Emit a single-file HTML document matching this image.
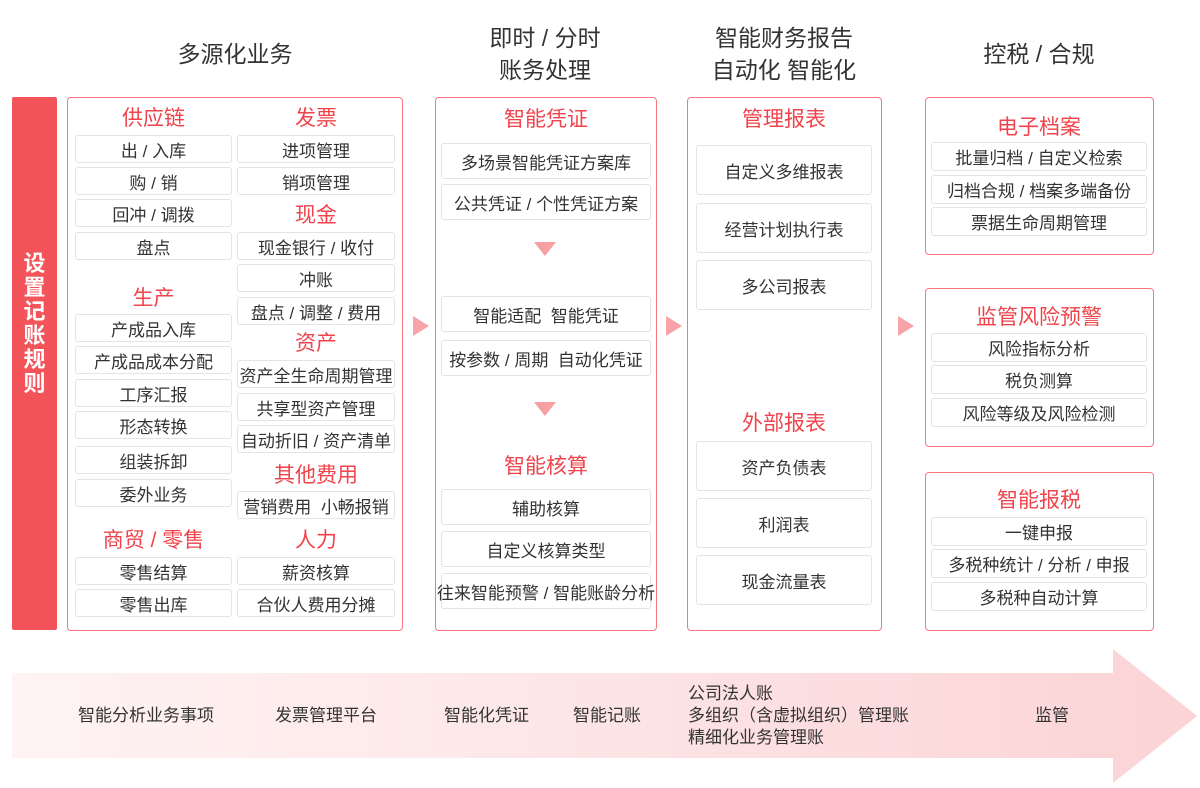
<!DOCTYPE html>
<html><head><meta charset="utf-8"><style>
*{margin:0;padding:0;box-sizing:border-box}
body{width:1200px;height:788px;background:#fff;position:relative;overflow:hidden;font-family:"Liberation Sans","Noto Sans CJK SC",sans-serif;color:#333}
.a{position:absolute}
.t{position:absolute;font-size:23px;color:#333;text-align:center;line-height:32px}
.box{position:absolute;border:1.5px solid #f5777c;border-radius:4px}
.i{position:absolute;border:1px solid #e4e4e4;border-radius:3px;font-size:17px;color:#333;display:flex;align-items:center;justify-content:center;white-space:nowrap;background:#fff}
.h{position:absolute;font-size:21px;color:#f0434b;text-align:center;line-height:24px;white-space:nowrap}
.ar{position:absolute;width:0;height:0;border-top:10px solid transparent;border-bottom:10px solid transparent;border-left:16px solid #f7a3a7}
.dn{position:absolute;width:0;height:0;border-left:11px solid transparent;border-right:11px solid transparent;border-top:14px solid #f7a0a4}
.b{position:absolute;font-size:17px;color:#333;white-space:nowrap;line-height:22px}
</style></head><body>
<div class="t" style="left:135px;top:38px;width:200px">多源化业务</div>
<div class="t" style="left:445px;top:22px;width:200px">即时 / 分时<br>账务处理</div>
<div class="t" style="left:684px;top:22px;width:200px">智能财务报告<br>自动化 智能化</div>
<div class="t" style="left:939px;top:38px;width:200px">控税 / 合规</div>

<div class="a" style="left:12px;top:97px;width:45px;height:533px;background:#f2545a;border-radius:2px"></div>
<div class="a" style="left:12px;top:252px;width:45px;color:#fff;font-size:22px;font-weight:bold;text-align:center;line-height:24px">设<br>置<br>记<br>账<br>规<br>则</div>

<div class="box" style="left:67px;top:97px;width:336px;height:534px"></div>
<div class="h" style="left:75px;top:107px;width:157px">供应链</div>
<div class="i" style="left:75px;top:135px;width:157px;height:28px">出 / 入库</div>
<div class="i" style="left:75px;top:167px;width:157px;height:28px">购 / 销</div>
<div class="i" style="left:75px;top:199px;width:157px;height:28px">回冲 / 调拨</div>
<div class="i" style="left:75px;top:232px;width:157px;height:28px">盘点</div>
<div class="h" style="left:75px;top:287px;width:157px">生产</div>
<div class="i" style="left:75px;top:314px;width:157px;height:28px">产成品入库</div>
<div class="i" style="left:75px;top:346px;width:157px;height:28px">产成品成本分配</div>
<div class="i" style="left:75px;top:379px;width:157px;height:28px">工序汇报</div>
<div class="i" style="left:75px;top:411px;width:157px;height:28px">形态转换</div>
<div class="i" style="left:75px;top:446px;width:157px;height:28px">组装拆卸</div>
<div class="i" style="left:75px;top:479px;width:157px;height:28px">委外业务</div>
<div class="h" style="left:75px;top:529px;width:157px">商贸 / 零售</div>
<div class="i" style="left:75px;top:557px;width:157px;height:28px">零售结算</div>
<div class="i" style="left:75px;top:589px;width:157px;height:28px">零售出库</div>

<div class="h" style="left:237px;top:107px;width:158px">发票</div>
<div class="i" style="left:237px;top:135px;width:158px;height:28px">进项管理</div>
<div class="i" style="left:237px;top:167px;width:158px;height:28px">销项管理</div>
<div class="h" style="left:237px;top:204px;width:158px">现金</div>
<div class="i" style="left:237px;top:232px;width:158px;height:28px">现金银行 / 收付</div>
<div class="i" style="left:237px;top:264px;width:158px;height:28px">冲账</div>
<div class="i" style="left:237px;top:297px;width:158px;height:28px">盘点 / 调整 / 费用</div>
<div class="h" style="left:237px;top:332px;width:158px">资产</div>
<div class="i" style="left:237px;top:360px;width:158px;height:28px">资产全生命周期管理</div>
<div class="i" style="left:237px;top:393px;width:158px;height:28px">共享型资产管理</div>
<div class="i" style="left:237px;top:425px;width:158px;height:28px">自动折旧 / 资产清单</div>
<div class="h" style="left:237px;top:464px;width:158px">其他费用</div>
<div class="i" style="left:237px;top:491px;width:158px;height:28px">营销费用&nbsp;&nbsp;小畅报销</div>
<div class="h" style="left:237px;top:529px;width:158px">人力</div>
<div class="i" style="left:237px;top:557px;width:158px;height:28px">薪资核算</div>
<div class="i" style="left:237px;top:589px;width:158px;height:28px">合伙人费用分摊</div>

<div class="ar" style="left:413px;top:316px"></div>

<div class="box" style="left:435px;top:97px;width:222px;height:534px"></div>
<div class="h" style="left:441px;top:108px;width:210px">智能凭证</div>
<div class="i" style="left:441px;top:143px;width:210px;height:36px">多场景智能凭证方案库</div>
<div class="i" style="left:441px;top:184px;width:210px;height:36px">公共凭证 / 个性凭证方案</div>
<div class="dn" style="left:534px;top:242px"></div>
<div class="i" style="left:441px;top:296px;width:210px;height:36px">智能适配&nbsp;&nbsp;智能凭证</div>
<div class="i" style="left:441px;top:340px;width:210px;height:36px">按参数 / 周期&nbsp;&nbsp;自动化凭证</div>
<div class="dn" style="left:534px;top:402px"></div>
<div class="h" style="left:441px;top:455px;width:210px">智能核算</div>
<div class="i" style="left:441px;top:489px;width:210px;height:36px">辅助核算</div>
<div class="i" style="left:441px;top:531px;width:210px;height:36px">自定义核算类型</div>
<div class="i" style="left:441px;top:573px;width:210px;height:36px">往来智能预警 / 智能账龄分析</div>

<div class="ar" style="left:666px;top:316px"></div>

<div class="box" style="left:687px;top:97px;width:195px;height:534px"></div>
<div class="h" style="left:696px;top:108px;width:176px">管理报表</div>
<div class="i" style="left:696px;top:145px;width:176px;height:50px">自定义多维报表</div>
<div class="i" style="left:696px;top:203px;width:176px;height:50px">经营计划执行表</div>
<div class="i" style="left:696px;top:260px;width:176px;height:50px">多公司报表</div>
<div class="h" style="left:696px;top:412px;width:176px">外部报表</div>
<div class="i" style="left:696px;top:441px;width:176px;height:50px">资产负债表</div>
<div class="i" style="left:696px;top:498px;width:176px;height:50px">利润表</div>
<div class="i" style="left:696px;top:555px;width:176px;height:50px">现金流量表</div>

<div class="ar" style="left:898px;top:316px"></div>

<div class="box" style="left:925px;top:97px;width:229px;height:158px"></div>
<div class="h" style="left:931px;top:116px;width:216px">电子档案</div>
<div class="i" style="left:931px;top:142px;width:216px;height:29px">批量归档 / 自定义检索</div>
<div class="i" style="left:931px;top:175px;width:216px;height:29px">归档合规 / 档案多端备份</div>
<div class="i" style="left:931px;top:207px;width:216px;height:29px">票据生命周期管理</div>

<div class="box" style="left:925px;top:288px;width:229px;height:159px"></div>
<div class="h" style="left:931px;top:306px;width:216px">监管风险预警</div>
<div class="i" style="left:931px;top:333px;width:216px;height:29px">风险指标分析</div>
<div class="i" style="left:931px;top:365px;width:216px;height:29px">税负测算</div>
<div class="i" style="left:931px;top:398px;width:216px;height:29px">风险等级及风险检测</div>

<div class="box" style="left:925px;top:472px;width:229px;height:159px"></div>
<div class="h" style="left:931px;top:489px;width:216px">智能报税</div>
<div class="i" style="left:931px;top:517px;width:216px;height:29px">一键申报</div>
<div class="i" style="left:931px;top:549px;width:216px;height:29px">多税种统计 / 分析 / 申报</div>
<div class="i" style="left:931px;top:582px;width:216px;height:29px">多税种自动计算</div>

<svg class="a" style="left:0;top:640px" width="1200" height="148">
<defs><linearGradient id="g" x1="0" x2="1" y1="0" y2="0"><stop offset="0" stop-color="#fff3f3"/><stop offset="0.4" stop-color="#fde8e9"/><stop offset="1" stop-color="#fbd3d5"/></linearGradient></defs>
<polygon points="12,33 1113,33 1113,9 1197,76 1113,143 1113,118 12,118" fill="url(#g)"/>
</svg>
<div class="b" style="left:78px;top:705px">智能分析业务事项</div>
<div class="b" style="left:275px;top:705px">发票管理平台</div>
<div class="b" style="left:444px;top:705px">智能化凭证</div>
<div class="b" style="left:573px;top:705px">智能记账</div>
<div class="b" style="left:688px;top:683px">公司法人账</div>
<div class="b" style="left:688px;top:705px">多组织（含虚拟组织）管理账</div>
<div class="b" style="left:688px;top:727px">精细化业务管理账</div>
<div class="b" style="left:1035px;top:705px">监管</div>
</body></html>
